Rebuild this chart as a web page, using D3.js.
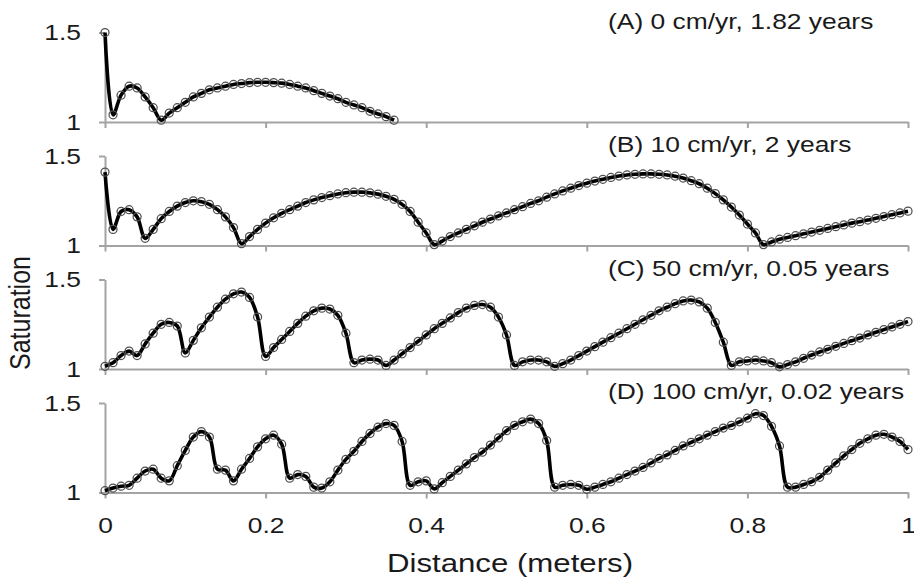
<!DOCTYPE html>
<html>
<head>
<meta charset="utf-8">
<script src="https://cdn.jsdelivr.net/npm/d3@7"></script>
<style>
  body { margin: 0; background: #fff; }
  text { font-family: "Liberation Sans", Arial, sans-serif; fill: #1a1a1a; }
</style>
</head>
<body>
<svg id="chart" width="914" height="578"></svg>
<script>
// panel captions
var panelLabels = ["(A) 0 cm/yr, 1.82 years", "(B) 10 cm/yr, 2 years",
                   "(C) 50 cm/yr, 0.05 years", "(D) 100 cm/yr, 0.02 years"];

// saturation values, sampled every 0.01 m starting at 0
var satA = [1.50, 1.04, 1.15, 1.20, 1.19, 1.14, 1.08, 1.01, 1.05, 1.08,
            1.11, 1.14, 1.16, 1.18, 1.19, 1.20, 1.21, 1.215, 1.22, 1.222,
            1.222, 1.22, 1.217, 1.21, 1.20, 1.19, 1.175, 1.16, 1.145, 1.13,
            1.11, 1.095, 1.08, 1.06, 1.045, 1.03, 1.01];

var satB = [1.41, 1.09, 1.19, 1.20, 1.16, 1.04, 1.09, 1.15, 1.19, 1.22,
            1.24, 1.25, 1.245, 1.23, 1.20, 1.16, 1.10, 1.01, 1.05, 1.09,
            1.125, 1.155, 1.18, 1.20, 1.22, 1.24, 1.255, 1.268, 1.278, 1.288,
            1.295, 1.298, 1.298, 1.294, 1.287, 1.275, 1.258, 1.23, 1.19, 1.13,
            1.07, 1.005, 1.025, 1.05, 1.07, 1.09, 1.11, 1.13, 1.148, 1.165,
            1.182, 1.20, 1.217, 1.235, 1.25, 1.27, 1.288, 1.305, 1.32, 1.335,
            1.348, 1.36, 1.37, 1.38, 1.388, 1.394, 1.398, 1.40, 1.40, 1.398,
            1.394, 1.387, 1.377, 1.362, 1.345, 1.32, 1.29, 1.255, 1.215, 1.17,
            1.12, 1.07, 1.005, 1.02, 1.035, 1.045, 1.055, 1.065, 1.075, 1.085,
            1.095, 1.105, 1.115, 1.125, 1.133, 1.142, 1.152, 1.162, 1.172, 1.182,
            1.192];

var satC = [1.015, 1.035, 1.075, 1.10, 1.075, 1.14, 1.20, 1.25, 1.26, 1.24,
            1.09, 1.16, 1.23, 1.29, 1.345, 1.39, 1.42, 1.43, 1.40, 1.29,
            1.07, 1.12, 1.165, 1.21, 1.255, 1.295, 1.325, 1.34, 1.335, 1.30,
            1.20, 1.035, 1.05, 1.055, 1.05, 1.02, 1.05, 1.085, 1.12, 1.155,
            1.19, 1.225, 1.255, 1.285, 1.315, 1.34, 1.355, 1.36, 1.345, 1.29,
            1.19, 1.02, 1.04, 1.05, 1.05, 1.04, 1.015, 1.03, 1.05, 1.075,
            1.10, 1.125, 1.15, 1.175, 1.20, 1.225, 1.25, 1.275, 1.30, 1.325,
            1.345, 1.365, 1.38, 1.385, 1.375, 1.34, 1.26, 1.15, 1.02, 1.04,
            1.045, 1.05, 1.045, 1.035, 1.012, 1.025, 1.04, 1.06, 1.078, 1.095,
            1.11, 1.127, 1.143, 1.158, 1.173, 1.19, 1.205, 1.22, 1.235, 1.25,
            1.265];

var satD = [1.01, 1.025, 1.035, 1.04, 1.08, 1.12, 1.13, 1.08, 1.065, 1.15,
            1.235, 1.31, 1.34, 1.31, 1.13, 1.125, 1.065, 1.13, 1.19, 1.255,
            1.30, 1.32, 1.27, 1.08, 1.10, 1.09, 1.03, 1.025, 1.06, 1.125,
            1.185, 1.23, 1.285, 1.33, 1.365, 1.385, 1.375, 1.285, 1.04, 1.06,
            1.065, 1.02, 1.055, 1.09, 1.125, 1.16, 1.195, 1.225, 1.265, 1.305,
            1.345, 1.375, 1.395, 1.41, 1.385, 1.29, 1.03, 1.04, 1.045, 1.04,
            1.018, 1.03, 1.045, 1.06, 1.08, 1.10, 1.12, 1.14, 1.165, 1.19,
            1.21, 1.235, 1.26, 1.28, 1.30, 1.32, 1.34, 1.36, 1.375, 1.395,
            1.415, 1.44, 1.43, 1.37, 1.26, 1.03, 1.03, 1.045, 1.06, 1.085,
            1.125, 1.165, 1.205, 1.24, 1.275, 1.30, 1.32, 1.325, 1.31, 1.285,
            1.24];

var distanceStep = 0.01;
var xTicks = [0, 0.2, 0.4, 0.6, 0.8, 1];
var yTicks = [1, 1.5];

(function() {
    var series = [satA, satB, satC, satD];
    var svg = d3.select("#chart");

    var grey = "#a3a3a3";
    var textStretch = 1.2;   // the reference text is a bit wide

    var x = d3.scaleLinear().domain([0, 1]).range([105, 908]);

    var panelTop = 32.5, panelStep = 123.5, panelH = 89.5;

    // widen text by scaling around its anchor point
    function stretch(sel) {
        sel.each(function() {
            var t = d3.select(this);
            var tx = +t.attr("x") || 0, ty = +t.attr("y") || 0;
            t.attr("x", 0).attr("y", 0)
             .attr("transform", "translate(" + tx + "," + ty + ") scale(" + textStretch + ",1)");
        });
    }

    series.forEach(function(vals, i) {
        var top = panelTop + i * panelStep;
        var y = d3.scaleLinear().domain([1, 1.5]).range([top + panelH, top]);
        var g = svg.append("g");

        // x axis on the 1.0 line
        var xAxis = d3.axisBottom(x).tickValues(xTicks).tickSize(6).tickSizeOuter(0)
            .tickPadding(19).tickFormat(i === 3 ? d3.format("") : "");
        var gx = g.append("g").attr("transform", "translate(0," + y(1) + ")").call(xAxis);

        var yAxis = d3.axisLeft(y).tickValues(yTicks).tickSize(6).tickSizeOuter(0)
            .tickPadding(18).tickFormat(d3.format(""));
        var gy = g.append("g").attr("transform", "translate(" + x(0) + ",0)").call(yAxis);

        [gx, gy].forEach(function(a) {
            a.select(".domain").attr("stroke", grey).attr("stroke-width", 2);
            a.selectAll(".tick line").attr("stroke", grey).attr("stroke-width", 2);
            a.selectAll(".tick text").attr("font-size", 22).attr("fill", "#1a1a1a")
                .style("font-family", '"Liberation Sans", Arial, sans-serif');
            stretch(a.selectAll(".tick text"));
        });

        var pts = vals.map(function(v, k) { return { d: k * distanceStep, s: v }; });

        var line = d3.line()
            .x(function(p) { return x(p.d); })
            .y(function(p) { return y(p.s); })
            .curve(d3.curveCatmullRom.alpha(0.5));

        g.append("path").datum(pts)
            .attr("d", line)
            .attr("fill", "none")
            .attr("stroke", "#000")
            .attr("stroke-width", 3.6)
            .attr("stroke-linejoin", "round");

        g.selectAll("circle.m").data(pts).enter().append("circle")
            .attr("class", "m")
            .attr("cx", function(p) { return x(p.d); })
            .attr("cy", function(p) { return y(p.s); })
            .attr("r", 4)
            .attr("fill", "none")
            .attr("stroke", "#505050")
            .attr("stroke-width", 1.25);

        var lab = g.append("text")
            .attr("x", 608).attr("y", top - 4)
            .attr("font-size", 22)
            .text(panelLabels[i]);
        stretch(lab);
    });

    var xt = svg.append("text")
        .attr("x", 510).attr("y", 572)
        .attr("text-anchor", "middle")
        .attr("font-size", 26)
        .text("Distance (meters)");
    stretch(xt);

    svg.append("text")
        .attr("transform", "translate(30,313) scale(" + textStretch + ",1) rotate(-90)")
        .attr("text-anchor", "middle")
        .attr("font-size", 25)
        .text("Saturation");
})();
</script>
</body>
</html>
